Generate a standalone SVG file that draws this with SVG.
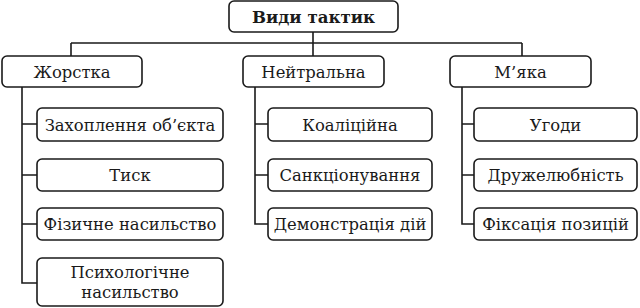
<svg xmlns="http://www.w3.org/2000/svg" width="640" height="308" viewBox="0 0 640 308">
<style>
.b{fill:#fff;stroke:#1a1a1a;stroke-width:1.6}
.t{font-family:"DejaVu Serif","Liberation Serif",serif;font-size:16.4px;fill:#1a1a1a;text-anchor:middle}
.h{font-weight:bold;font-size:16.6px}
.c{fill:none;stroke:#1a1a1a;stroke-width:1.6}
</style>
<rect width="640" height="308" fill="#fff"/>
<g id="connectors">
<path class="c" d="M313 32V56M71 43H522M71 43V56M522 43V56"/>
<path class="c" d="M22 87V283H37M22 124H37M22 175H37M22 224H37"/>
<path class="c" d="M255 87V224H268M255 124H268M255 175H268"/>
<path class="c" d="M462 87V224H474M462 124H474M462 175H474"/>
</g>
<g id="root"><rect class="b" x="229" y="1" width="169" height="31" rx="5"/><text class="t h" x="313.5" y="22.5">Види тактик</text></g>
<g id="hard"><rect class="b" x="2" y="56" width="140" height="31" rx="5"/><text class="t" x="72" y="77.5">Жорстка</text></g>
<g id="neutral"><rect class="b" x="243" y="56" width="141" height="31" rx="5"/><text class="t" x="313.5" y="77.5">Нейтральна</text></g>
<g id="soft"><rect class="b" x="450" y="56" width="141" height="31" rx="5"/><text class="t" x="520.5" y="77.5">М’яка</text></g>
<g id="h1"><rect class="b" x="37" y="108" width="186" height="33" rx="5"/><text class="t" x="130" y="130.5">Захоплення об’єкта</text></g>
<g id="h2"><rect class="b" x="37" y="159" width="186" height="32" rx="5"/><text class="t" x="130" y="180.5">Тиск</text></g>
<g id="h3"><rect class="b" x="37" y="208" width="186" height="32" rx="5"/><text class="t" x="130" y="229.5">Фізичне насильство</text></g>
<g id="h4"><rect class="b" x="37" y="258" width="186" height="48" rx="5"/><text class="t" x="130" y="278">Психологічне</text><text class="t" x="130" y="297.5">насильство</text></g>
<g id="n1"><rect class="b" x="268" y="108" width="164" height="33" rx="5"/><text class="t" x="350" y="130.5">Коаліційна</text></g>
<g id="n2"><rect class="b" x="268" y="159" width="164" height="32" rx="5"/><text class="t" x="350" y="180.5">Санкціонування</text></g>
<g id="n3"><rect class="b" x="268" y="208" width="164" height="32" rx="5"/><text class="t" x="350" y="229.5">Демонстрація дій</text></g>
<g id="s1"><rect class="b" x="474" y="108" width="163" height="33" rx="5"/><text class="t" x="555.5" y="130.5">Угоди</text></g>
<g id="s2"><rect class="b" x="474" y="159" width="163" height="32" rx="5"/><text class="t" x="555.5" y="180.5">Дружелюбність</text></g>
<g id="s3"><rect class="b" x="474" y="208" width="163" height="32" rx="5"/><text class="t" x="555.5" y="229.5">Фіксація позицій</text></g>
</svg>
